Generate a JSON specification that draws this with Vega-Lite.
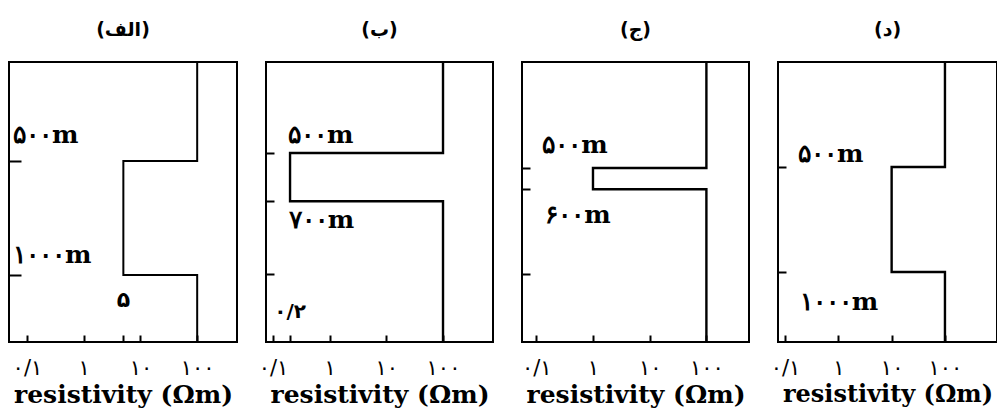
{
  "$schema": "https://vega.github.io/schema/vega-lite/v6.json",
  "background": "white",
  "padding": {"left": 7, "top": 20, "right": 0, "bottom": 0},
  "bounds": "flush",
  "spacing": 29,
  "config": {
    "view": {"stroke": "black", "strokeWidth": 2},
    "axis": {"grid": false, "domain": false, "tickColor": "black", "tickWidth": 2, "labelColor": "black", "titleColor": "black"},
    "title": {"font": "DejaVu Sans", "fontSize": 19, "fontWeight": "bold", "color": "black", "offset": 22}
  },
  "datasets": {
    "steps": [
      {"panel": "A", "seq": 1, "res": 100, "depth": 0},
      {"panel": "A", "seq": 2, "res": 100, "depth": 500},
      {"panel": "A", "seq": 3, "res": 5, "depth": 500},
      {"panel": "A", "seq": 4, "res": 5, "depth": 1000},
      {"panel": "A", "seq": 5, "res": 100, "depth": 1000},
      {"panel": "A", "seq": 6, "res": 100, "depth": 1500},
      {"panel": "B", "seq": 1, "res": 100, "depth": 0},
      {"panel": "B", "seq": 2, "res": 100, "depth": 500},
      {"panel": "B", "seq": 3, "res": 0.2, "depth": 500},
      {"panel": "B", "seq": 4, "res": 0.2, "depth": 700},
      {"panel": "B", "seq": 5, "res": 100, "depth": 700},
      {"panel": "B", "seq": 6, "res": 100, "depth": 1500},
      {"panel": "C", "seq": 1, "res": 100, "depth": 0},
      {"panel": "C", "seq": 2, "res": 100, "depth": 500},
      {"panel": "C", "seq": 3, "res": 1, "depth": 500},
      {"panel": "C", "seq": 4, "res": 1, "depth": 600},
      {"panel": "C", "seq": 5, "res": 100, "depth": 600},
      {"panel": "C", "seq": 6, "res": 100, "depth": 1500},
      {"panel": "D", "seq": 1, "res": 100, "depth": 0},
      {"panel": "D", "seq": 2, "res": 100, "depth": 500},
      {"panel": "D", "seq": 3, "res": 10, "depth": 500},
      {"panel": "D", "seq": 4, "res": 10, "depth": 1000},
      {"panel": "D", "seq": 5, "res": 100, "depth": 1000},
      {"panel": "D", "seq": 6, "res": 100, "depth": 1500}
    ],
    "labels": [
      {"panel": "A", "text": "۵۰۰m", "res": 0.0567, "depth": 421},
      {"panel": "A", "text": "۱۰۰۰m", "res": 0.0567, "depth": 948},
      {"panel": "B", "text": "۵۰۰m", "res": 0.184, "depth": 459},
      {"panel": "B", "text": "۷۰۰m", "res": 0.19, "depth": 811},
      {"panel": "C", "text": "۵۰۰m", "res": 0.128, "depth": 429},
      {"panel": "C", "text": "۶۰۰m", "res": 0.144, "depth": 758},
      {"panel": "D", "text": "۵۰۰m", "res": 0.175, "depth": 476},
      {"panel": "D", "text": "۱۰۰۰m", "res": 0.19, "depth": 1181}
    ],
    "ticklabels": [
      {"panel": "A", "text": "۵", "res": 5, "depth": 1140},
      {"panel": "B", "text": "۰/۲", "res": 0.2, "depth": 1185}
    ]
  },
  "hconcat": [
    {
      "width": 228, "height": 280,
      "title": "(الف)",
      "layer": [
        {
          "data": {"name": "steps"},
          "transform": [{"filter": "datum.panel === 'A'"}],
          "mark": {"type": "line", "color": "black", "strokeWidth": 2, "clip": true},
          "encoding": {
            "x": {"field": "res", "type": "quantitative", "scale": {"type": "log", "domain": [0.0483, 503], "nice": false},
              "axis": {"values": [0.1, 1, 5, 10, 100], "tickSize": -7, "labelPadding": 22, "labelFont": "DejaVu Sans", "labelFontSize": 21,
                "labelExpr": "datum.value == 0.1 ? '۰/۱' : datum.value == 1 ? '۱' : datum.value == 10 ? '۱۰' : datum.value == 100 ? '۱۰۰' : ''",
                "title": "resistivity (Ωm)", "titleFont": "DejaVu Serif", "titleFontSize": 25, "titleFontWeight": "bold", "titlePadding": 4}},
            "y": {"field": "depth", "type": "quantitative", "scale": {"domain": [66, 1294], "reverse": true, "nice": false, "zero": false},
              "axis": {"values": [500, 1000], "tickSize": -12, "labels": false, "title": null}},
            "order": {"field": "seq"}
          }
        },
        {
          "data": {"name": "labels"},
          "transform": [{"filter": "datum.panel === 'A'"}],
          "mark": {"type": "text", "align": "left", "baseline": "alphabetic", "font": "DejaVu Serif", "fontWeight": "bold", "fontSize": 25, "color": "black"},
          "encoding": {"x": {"field": "res", "type": "quantitative"}, "y": {"field": "depth", "type": "quantitative"}, "text": {"field": "text"}}
        },
        {
          "data": {"name": "ticklabels"},
          "transform": [{"filter": "datum.panel === 'A'"}],
          "mark": {"type": "text", "align": "center", "baseline": "alphabetic", "font": "DejaVu Sans", "fontWeight": "bold", "fontSize": 22, "color": "black"},
          "encoding": {"x": {"field": "res", "type": "quantitative"}, "y": {"field": "depth", "type": "quantitative"}, "text": {"field": "text"}}
        }
      ]
    },
    {
      "width": 227, "height": 280,
      "title": "(ب)",
      "layer": [
        {
          "data": {"name": "steps"},
          "transform": [{"filter": "datum.panel === 'B'"}],
          "mark": {"type": "line", "color": "black", "strokeWidth": 2.4, "clip": true},
          "encoding": {
            "x": {"field": "res", "type": "quantitative", "scale": {"type": "log", "domain": [0.0753, 762], "nice": false},
              "axis": {"values": [0.1, 0.2, 1, 10, 100], "tickSize": -7, "labelPadding": 22, "labelFont": "DejaVu Sans", "labelFontSize": 21,
                "labelExpr": "datum.value == 0.1 ? '۰/۱' : datum.value == 1 ? '۱' : datum.value == 10 ? '۱۰' : datum.value == 100 ? '۱۰۰' : ''",
                "title": "resistivity (Ωm)", "titleFont": "DejaVu Serif", "titleFontSize": 25, "titleFontWeight": "bold", "titlePadding": 4}},
            "y": {"field": "depth", "type": "quantitative", "scale": {"domain": [123, 1283], "reverse": true, "nice": false, "zero": false},
              "axis": {"values": [500, 700, 1000], "tickSize": -8, "labels": false, "title": null}},
            "order": {"field": "seq"}
          }
        },
        {
          "data": {"name": "labels"},
          "transform": [{"filter": "datum.panel === 'B'"}],
          "mark": {"type": "text", "align": "left", "baseline": "alphabetic", "font": "DejaVu Serif", "fontWeight": "bold", "fontSize": 25, "color": "black"},
          "encoding": {"x": {"field": "res", "type": "quantitative"}, "y": {"field": "depth", "type": "quantitative"}, "text": {"field": "text"}}
        },
        {
          "data": {"name": "ticklabels"},
          "transform": [{"filter": "datum.panel === 'B'"}],
          "mark": {"type": "text", "align": "center", "baseline": "alphabetic", "font": "DejaVu Sans", "fontWeight": "bold", "fontSize": 20, "color": "black"},
          "encoding": {"x": {"field": "res", "type": "quantitative"}, "y": {"field": "depth", "type": "quantitative"}, "text": {"field": "text"}}
        }
      ]
    },
    {
      "width": 227, "height": 280,
      "title": "(ج)",
      "layer": [
        {
          "data": {"name": "steps"},
          "transform": [{"filter": "datum.panel === 'C'"}],
          "mark": {"type": "line", "color": "black", "strokeWidth": 2.4, "clip": true},
          "encoding": {
            "x": {"field": "res", "type": "quantitative", "scale": {"type": "log", "domain": [0.056, 564], "nice": false},
              "axis": {"values": [0.1, 1, 10, 100], "tickSize": -7, "labelPadding": 22, "labelFont": "DejaVu Sans", "labelFontSize": 21,
                "labelExpr": "datum.value == 0.1 ? '۰/۱' : datum.value == 1 ? '۱' : datum.value == 10 ? '۱۰' : datum.value == 100 ? '۱۰۰' : ''",
                "title": "resistivity (Ωm)", "titleFont": "DejaVu Serif", "titleFontSize": 25, "titleFontWeight": "bold", "titlePadding": 4}},
            "y": {"field": "depth", "type": "quantitative", "scale": {"domain": [0, 1320], "reverse": true, "nice": false, "zero": false},
              "axis": {"values": [500, 600, 1000], "tickSize": -8, "labels": false, "title": null}},
            "order": {"field": "seq"}
          }
        },
        {
          "data": {"name": "labels"},
          "transform": [{"filter": "datum.panel === 'C'"}],
          "mark": {"type": "text", "align": "left", "baseline": "alphabetic", "font": "DejaVu Serif", "fontWeight": "bold", "fontSize": 25, "color": "black"},
          "encoding": {"x": {"field": "res", "type": "quantitative"}, "y": {"field": "depth", "type": "quantitative"}, "text": {"field": "text"}}
        }
      ]
    },
    {
      "width": 219, "height": 280,
      "title": "(د)",
      "layer": [
        {
          "data": {"name": "steps"},
          "transform": [{"filter": "datum.panel === 'D'"}],
          "mark": {"type": "line", "color": "black", "strokeWidth": 2.4, "clip": true},
          "encoding": {
            "x": {"field": "res", "type": "quantitative", "scale": {"type": "log", "domain": [0.074, 946], "nice": false},
              "axis": {"values": [0.1, 1, 10, 100], "tickSize": -7, "labelPadding": 22, "labelFont": "DejaVu Sans", "labelFontSize": 21,
                "labelExpr": "datum.value == 0.1 ? '۰/۱' : datum.value == 1 ? '۱' : datum.value == 10 ? '۱۰' : datum.value == 100 ? '۱۰۰' : ''",
                "title": "resistivity (Ωm)", "titleFont": "DejaVu Serif", "titleFontSize": 24, "titleFontWeight": "bold", "titlePadding": 4}},
            "y": {"field": "depth", "type": "quantitative", "scale": {"domain": [0, 1333], "reverse": true, "nice": false, "zero": false},
              "axis": {"values": [500, 1000], "tickSize": -8, "labels": false, "title": null}},
            "order": {"field": "seq"}
          }
        },
        {
          "data": {"name": "labels"},
          "transform": [{"filter": "datum.panel === 'D'"}],
          "mark": {"type": "text", "align": "left", "baseline": "alphabetic", "font": "DejaVu Serif", "fontWeight": "bold", "fontSize": 25, "color": "black"},
          "encoding": {"x": {"field": "res", "type": "quantitative"}, "y": {"field": "depth", "type": "quantitative"}, "text": {"field": "text"}}
        }
      ]
    }
  ]
}
